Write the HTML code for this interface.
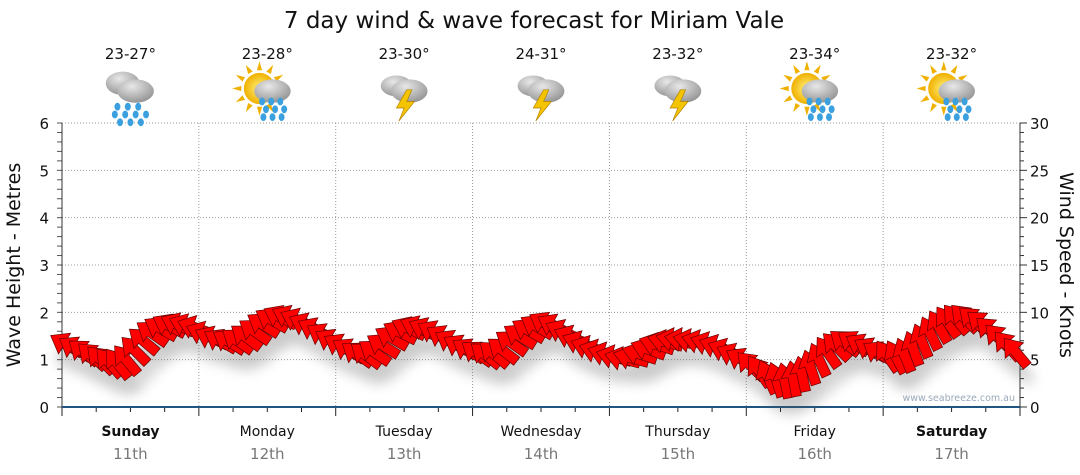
<!DOCTYPE html>
<html><head><meta charset="utf-8"><style>
body{margin:0;background:#fff;font-family:"DejaVu Sans","Liberation Sans",sans-serif}
svg{display:block}
</style></head><body>
<svg id="c" width="1080" height="475" xmlns="http://www.w3.org/2000/svg" font-family="DejaVu Sans, Liberation Sans, sans-serif">
<defs>
<filter id="sh" x="-50%" y="-50%" width="200%" height="200%"><feGaussianBlur stdDeviation="6"/></filter>
<radialGradient id="cl" cx="0.4" cy="0.3" r="0.8"><stop offset="0" stop-color="#e8e8e8"/><stop offset="1" stop-color="#8a8a8a"/></radialGradient>
<radialGradient id="sn" cx="0.5" cy="0.5" r="0.5"><stop offset="0" stop-color="#fff27a"/><stop offset="1" stop-color="#f0b000"/></radialGradient>
</defs>
<text x="534" y="28" font-size="23" text-anchor="middle" fill="#111">7 day wind &amp; wave forecast for Miriam Vale</text>
<g id="grid"></g>
<g id="axes"></g>
<g id="icons"></g>
<g id="shadows" filter="url(#sh)" opacity="0.3"></g>
<g id="arrows"></g>
<text x="1015" y="401" font-size="9.5" text-anchor="end" fill="#9ab">www.seabreeze.com.au</text>
<text transform="translate(20,265) rotate(-90)" font-size="19" text-anchor="middle" fill="#111">Wave Height - Metres</text>
<text transform="translate(1060,265) rotate(90)" font-size="19" text-anchor="middle" fill="#111">Wind Speed - Knots</text>
</svg>
<script>
const days=["Sunday","Monday","Tuesday","Wednesday","Thursday","Friday","Saturday"];
const dates=["11th","12th","13th","14th","15th","16th","17th"];
const temps=["23-27°","23-28°","23-30°","24-31°","23-32°","23-34°","23-32°"];
const icons=["rain","sunrain","storm","storm","storm","sunrain","sunrain"];
const waveTicks=[0,1,2,3,4,5,6];
const windTicks=[0,5,10,15,20,25,30];
const windSpeed=[6.6,6.2,5.8,5.4,5.0,4.7,4.6,5.0,6.0,7.0,7.8,8.3,8.6,8.7,8.6,8.4,
7.8,7.3,7.0,6.9,7.0,7.4,8.0,8.7,9.2,9.5,9.5,9.2,8.7,8.2,7.6,7.0,
6.5,6.0,5.6,5.5,5.8,6.5,7.3,7.9,8.3,8.4,8.2,7.9,7.4,6.9,6.4,6.0,
5.7,5.5,5.6,6.0,6.8,7.5,8.1,8.5,8.8,8.6,8.0,7.4,6.8,6.3,5.9,5.6,
5.3,5.1,5.2,5.6,6.1,6.6,6.9,7.1,7.1,7.0,6.9,6.7,6.4,6.0,5.5,5.0,
4.4,3.8,3.2,2.9,2.8,3.0,3.5,4.2,5.0,5.8,6.4,6.8,6.8,6.5,6.1,5.7,
5.4,5.3,5.5,6.2,7.0,7.8,8.5,9.0,9.3,9.4,9.2,8.8,8.1,7.3,6.5,5.8];
const windDir=[-150,-148,-142,-138,-135,-132,-128,-130,-135,-140,-145,-150,-152,-155,-158,-160,
-158,-155,-150,-148,-145,-143,-145,-148,-150,-153,-155,-156,-155,-153,-150,-150,
-150,-148,-145,-143,-145,-148,-150,-153,-155,-156,-155,-152,-150,-150,-150,-148,
-145,-142,-140,-142,-145,-148,-150,-150,-150,-152,-155,-157,-158,-160,-162,-163,
-165,-166,-165,-162,-160,-162,-165,-168,-170,-168,-165,-162,-160,-158,-155,-150,
-135,-125,-115,-108,-102,-100,-102,-108,-115,-125,-135,-142,-146,-150,-150,-148,
-125,-118,-112,-110,-112,-116,-120,-125,-130,-135,-138,-140,-138,-135,-132,-130];
const NS="http://www.w3.org/2000/svg";
const L=62,R=1020,T=123,B=407,dayW=(R-L)/7;
const yW=v=>B-(v/6)*(B-T), yK=v=>B-(v/30)*(B-T);
const xI=i=>L+(i+0.5)*(R-L)/windSpeed.length;
function mk(tag,a,p){const e=document.createElementNS(NS,tag);for(const k in a)e.setAttribute(k,a[k]);(p||document.getElementById('c')).appendChild(e);return e;}
const grid=document.getElementById('grid'),axes=document.getElementById('axes');
waveTicks.forEach(v=>{if(v>0){const g=mk('line',{x1:L,x2:R,y1:yW(v),y2:yW(v),stroke:'#999','stroke-dasharray':'1,2'},grid);}
const t=mk('text',{x:49,y:yW(v)+6,'font-size':15,'text-anchor':'end',fill:'#111'},axes);t.textContent=v;
});
for(let v=0;v<=6.001;v+=0.2){mk('line',{x1:L-5,x2:L,y1:yW(v),y2:yW(v),stroke:'#555'},axes);}
windTicks.forEach(v=>{const t=mk('text',{x:1030,y:yK(v)+6,'font-size':15,fill:'#111'},axes);t.textContent=v;
});
for(let v=0;v<=30;v++){mk('line',{x1:R,x2:R+(v%5?4:7),y1:yK(v),y2:yK(v),stroke:'#333'},axes);}
mk('line',{x1:L,x2:L,y1:T,y2:B,stroke:'#333'},axes);
mk('line',{x1:R,x2:R,y1:T,y2:B,stroke:'#333'},axes);
for(let d=1;d<7;d++){const x=L+d*dayW;const g=mk('line',{x1:x,x2:x,y1:T,y2:B,stroke:'#999','stroke-dasharray':'1,2'},grid);}
for(let i=0;i<=28;i++){const x=L+i*dayW/4;mk('line',{x1:x,x2:x,y1:B,y2:B+(i%4?5:9),stroke:'#222'},axes);}
mk('line',{x1:L,x2:R,y1:B,y2:B,stroke:'#1f5580','stroke-width':2},axes);
days.forEach((d,i)=>{const cx=L+(i+0.5)*dayW;
const a=mk('text',{x:cx,y:436,'font-size':14,'text-anchor':'middle',fill:'#111','font-weight':(i==0||i==6)?'bold':'normal'},axes);a.textContent=d;

const b=mk('text',{x:cx,y:459,'font-size':15,'text-anchor':'middle',fill:'#777'},axes);b.textContent=dates[i];

const t=mk('text',{x:cx,y:59,'font-size':15,'text-anchor':'middle',fill:'#111'},document.getElementById('icons'));t.textContent=temps[i];

const g=mk('g',{transform:`translate(${cx},95) scale(1.3)`},document.getElementById('icons'));

const k=icons[i];
if(k==='sunrain'){mk('circle',{cx:-6,cy:-5,r:12,fill:'url(#sn)'},g);for(let r=0;r<12;r++){mk('path',{d:'M-2,-14 L0,-21 L2,-14Z',fill:'#f0b000',transform:`translate(-6,-5) rotate(${r*30})`},g);}}
if(k==='rain'){mk('ellipse',{cx:-6,cy:-9,rx:13,ry:9,fill:'url(#cl)'},g);}
if(k==='storm'){mk('ellipse',{cx:-6,cy:-7,rx:12,ry:8,fill:'url(#cl)'},g);}
mk('ellipse',{cx:4,cy:-3,rx:14,ry:9,fill:'url(#cl)'},g);
if(k==='storm'){mk('path',{d:'M2,-4 L-6,10 L0,10 L-4,20 L8,5 L2,5 L6,-4Z',fill:'#f5c400',stroke:'#b08000','stroke-width':0.5},g);}
else{const pts=k==='rain'?[[-10,9],[-2,9],[6,9],[-12,15],[-4,15],[4,15],[12,15],[-8,21],[0,21],[8,21]]:[[-4,5],[3,5],[10,5],[-1,11],[6,11],[13,11],[-3,17],[4,17],[11,17]];
pts.forEach(p=>mk('ellipse',{cx:p[0],cy:p[1],rx:2.3,ry:3,fill:'#3aa0e0'},g));}
});
const arrowPath='M-18,-5 L2,-5 L2,-12 L18,0 L2,12 L2,5 L-18,5Z';
const sh=document.getElementById('shadows'),ar=document.getElementById('arrows');
windSpeed.forEach((v,i)=>{
mk('path',{d:arrowPath,fill:'#555',transform:`translate(${xI(i)+4},${yK(v)+16}) rotate(${windDir[i]})`},sh);
const p=mk('path',{d:arrowPath,fill:'#ff0000',stroke:'#600','stroke-width':0.7,transform:`translate(${xI(i)},${yK(v)}) rotate(${windDir[i]})`},ar);


});
</script>
</body></html>
